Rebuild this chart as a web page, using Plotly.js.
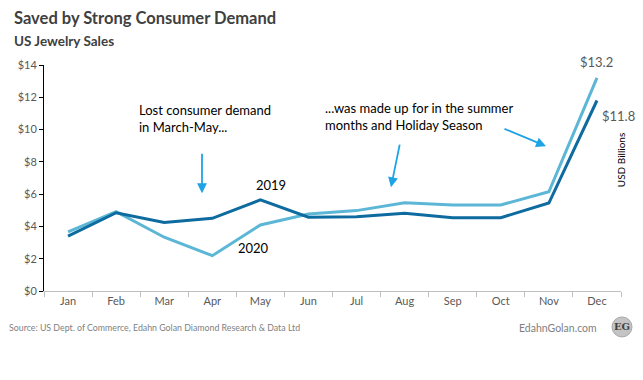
<!DOCTYPE html>
<html><head><meta charset="utf-8">
<script src="https://cdn.plot.ly/plotly-3.0.1.min.js"></script>
<style>html,body{margin:0;padding:0;background:#fff}#c{width:643px;height:380px}</style>
</head><body><div id="c"></div>
<script>
const months = ['Jan','Feb','Mar','Apr','May','Jun','Jul','Aug','Sep','Oct','Nov','Dec'];
const sales2019 = [3.4, 4.85, 4.25, 4.5, 5.64, 4.57, 4.6, 4.81, 4.54, 4.54, 5.45, 11.8];
const sales2020 = [3.67, 4.91, 3.33, 2.19, 4.09, 4.77, 4.98, 5.47, 5.33, 5.33, 6.15, 13.2];
const yTickVals = [0,2,4,6,8,10,12,14];
const yTickText = ['$0','$2','$4','$6','$8','$10','$12','$14'];

const FONT = 'Lato, "Open Sans", sans-serif';
const L = 44, R = 621, T = 64.7, B = 291;
const px = x => (x - L) / (R - L);
const py = y => (B - y) / (B - T);

const traces = [
  {x: months, y: sales2020, type:'scatter', mode:'lines', name:'2020',
   line:{color:'#5cb6d6', width:3}},
  {x: months, y: sales2019, type:'scatter', mode:'lines', name:'2019',
   line:{color:'#0e6ba0', width:3}}
];

function arrow(x0,y0,x1,y1){
  return {xref:'paper', yref:'paper', x:px(x1), y:py(y1), ax:x0-x1, ay:y0-y1,
    axref:'pixel', ayref:'pixel', text:'', showarrow:true, arrowhead:2, arrowsize:1.1,
    arrowwidth:1.8, arrowcolor:'#1ea4e6'};
}

const layout = {
  width:643, height:380,
  margin:{l:L, r:643-R, t:T, b:380-B},
  paper_bgcolor:'#fff', plot_bgcolor:'#fff',
  showlegend:false,
  font:{family:FONT, color:'#595959', size:11},
  xaxis:{type:'category', range:[-0.5,11.5], showgrid:false, zeroline:false,
    showline:true, linecolor:'#bfbfbf', linewidth:1,
    ticks:'outside', ticklen:5, tickcolor:'#bfbfbf', tickson:'boundaries',
    tickfont:{family:FONT, size:11, color:'#595959'}},
  yaxis:{range:[0,14], tickvals:yTickVals, ticktext:yTickText, showgrid:false, zeroline:false,
    showline:true, linecolor:'#000', linewidth:1, ticks:'outside', ticklen:4, tickcolor:'#000',
    tickfont:{family:FONT, size:11, color:'#595959'}},
  annotations:[
    {xref:'paper', yref:'paper', x:px(12), y:py(18), xanchor:'left', yanchor:'middle', showarrow:false,
     text:'<b>Saved by Strong Consumer Demand</b>', font:{family:FONT, size:16.5, color:'#404040'}},
    {xref:'paper', yref:'paper', x:px(12), y:py(41), xanchor:'left', yanchor:'middle', showarrow:false,
     text:'<b>US Jewelry Sales</b>', font:{family:FONT, size:13.5, color:'#404040'}},
    {xref:'paper', yref:'paper', x:px(137), y:py(118), xanchor:'left', yanchor:'middle', showarrow:false, align:'left',
     text:'Lost consumer demand<br>in March-May...', font:{family:FONT, size:13, color:'#000'}},
    {xref:'paper', yref:'paper', x:px(323), y:py(116), xanchor:'left', yanchor:'middle', showarrow:false, align:'left',
     text:'...was made up for in the summer<br>months and Holiday Season', font:{family:FONT, size:13, color:'#000'}},
    {xref:'paper', yref:'paper', x:px(271), y:py(185), xanchor:'center', yanchor:'middle', showarrow:false,
     text:'2019', font:{family:FONT, size:13, color:'#000'}},
    {xref:'paper', yref:'paper', x:px(253), y:py(248), xanchor:'center', yanchor:'middle', showarrow:false,
     text:'2020', font:{family:FONT, size:13, color:'#000'}},
    {x:'Dec', y:sales2020[11], xref:'x', yref:'y', yanchor:'bottom', yshift:6, showarrow:false,
     text:'$'+sales2020[11].toFixed(1), font:{family:FONT, size:13, color:'#595959'}},
    {x:'Dec', y:sales2019[11], xref:'x', yref:'y', xanchor:'left', yanchor:'top', xshift:3, yshift:-5, showarrow:false,
     text:'$'+sales2019[11].toFixed(1), font:{family:FONT, size:13, color:'#595959'}},
    {xref:'paper', yref:'paper', x:px(621), y:py(160), xanchor:'center', yanchor:'middle', showarrow:false,
     textangle:-90, text:'USD Billions', font:{family:FONT, size:10, color:'#000'}},
    {xref:'paper', yref:'paper', x:px(7), y:py(328), xanchor:'left', yanchor:'middle', showarrow:false,
     text:'Source: US Dept. of Commerce, Edahn Golan Diamond Research & Data Ltd', font:{family:FONT, size:8.8, color:'#7f7f7f'}},
    {xref:'paper', yref:'paper', x:px(599), y:py(328), xanchor:'right', yanchor:'middle', showarrow:false,
     text:'EdahnGolan.com', font:{family:FONT, size:10.5, color:'#7f7f7f'}},
    {xref:'paper', yref:'paper', x:px(622), y:py(327), xanchor:'center', yanchor:'middle', showarrow:false,
     text:'<b>EG</b>', font:{family:'DejaVu Serif, serif', size:10, color:'#404040'}},
    arrow(202,152,202,193),
    arrow(400,143,391,187),
    arrow(503,128,546,146)
  ],
  shapes:[
    {type:'circle', xref:'paper', yref:'paper', x0:px(612), x1:px(632), y0:py(337), y1:py(317),
     fillcolor:'#c4c4c4', line:{color:'#a8a8a8', width:1}}
  ]
};
Plotly.newPlot('c', traces, layout, {displayModeBar:false, staticPlot:true});
</script></body></html>
